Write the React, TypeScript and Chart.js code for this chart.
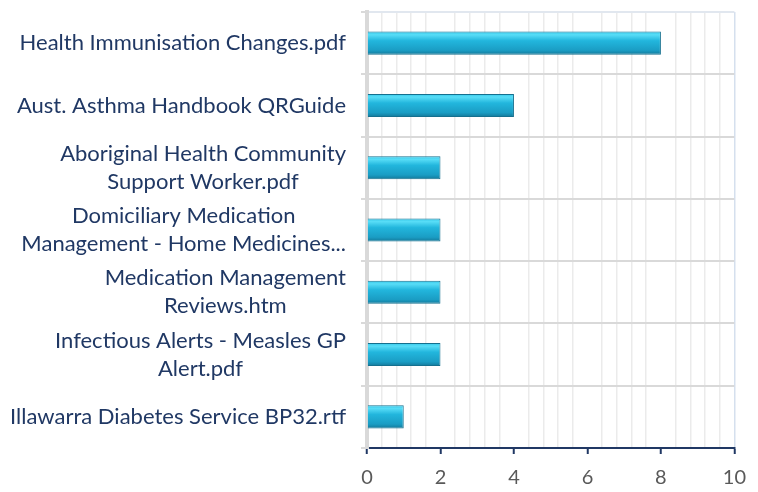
import React, { useEffect, useRef } from 'react';
import { Chart, registerables } from 'chart.js';
Chart.register(...registerables);

const categories: string[][] = [
  ['Health Immunisation Changes.pdf'],
  ['Aust. Asthma Handbook QRGuide'],
  ['Aboriginal Health Community', 'Support Worker.pdf'],
  ['Domiciliary Medication', 'Management - Home Medicines...'],
  ['Medication Management', 'Reviews.htm'],
  ['Infectious Alerts - Measles GP', 'Alert.pdf'],
  ['Illawarra Diabetes Service BP32.rtf'],
];
const values: number[] = [8, 4, 2, 2, 2, 2, 1];
const xTickLabels: number[] = [0, 2, 4, 6, 8, 10];
const xMin = 0;
const xMax = 10;
const minorStep = 0.4;

const LABEL_FONT = '22px Lato, "Open Sans", sans-serif';
const LABEL_COLOR = '#203864';

const isMajor = (v: number) => xTickLabels.some((t) => Math.abs(t - v) < 1e-6);

const labelPlugin = {
  id: 'blockLabels',
  afterDraw(chart: any) {
    const { ctx } = chart;
    const ys = chart.scales.y;
    ctx.save();
    ctx.font = LABEL_FONT;
    ctx.fillStyle = LABEL_COLOR;
    ctx.textAlign = 'center';
    ctx.textBaseline = 'middle';
    const right = chart.chartArea.left - 21;
    const lh = 28;
    categories.forEach((lines, i) => {
      const cy = ys.getPixelForValue(i);
      const widest = Math.max(...lines.map((l) => ctx.measureText(l).width));
      const cx = right - widest / 2;
      lines.forEach((l, j) => ctx.fillText(l, cx, cy + (j - (lines.length - 1) / 2) * lh));
    });
    ctx.restore();
  },
};

export default function App() {
  const ref = useRef<HTMLCanvasElement>(null);
  useEffect(() => {
    if (!ref.current) return;
    const chart = new Chart(ref.current, {
      type: 'bar',
      data: {
        labels: categories,
        datasets: [
          {
            data: values,
            backgroundColor: (c: any) => {
              const ch = c.chart;
              const ys = ch.scales?.y;
              if (!ys || c.dataIndex === undefined) return '#1FB3DA';
              const cy = ys.getPixelForValue(c.dataIndex);
              if (!Number.isFinite(cy)) return '#1FB3DA';
              const h = 12;
              const g = ch.ctx.createLinearGradient(0, cy - h, 0, cy + h);
              g.addColorStop(0, '#2EC3E6');
              g.addColorStop(0.15, '#58DDF7');
              g.addColorStop(0.4, '#22B6DD');
              g.addColorStop(0.8, '#1A9DC4');
              g.addColorStop(1, '#137494');
              return g;
            },
            borderColor: '#15708F',
            borderWidth: 1,
            borderSkipped: 'start',
            barPercentage: 0.37,
            categoryPercentage: 1,
          },
        ],
      },
      options: {
        indexAxis: 'y',
        animation: false,
        responsive: false,
        maintainAspectRatio: false,
        layout: { padding: { top: 12, right: 19, left: 0, bottom: 0 } },
        plugins: { legend: { display: false }, tooltip: { enabled: false } },
        scales: {
          x: {
            type: 'linear',
            min: xMin,
            max: xMax,
            afterBuildTicks: (scale: any) => {
              const t: any[] = [];
              const n = Math.round((xMax - xMin) / minorStep);
              for (let i = 0; i <= n; i++) t.push({ value: Math.round((xMin + i * minorStep) * 1000) / 1000 });
              scale.ticks = t;
            },
            afterFit: (scale: any) => {
              scale.height = 44;
            },
            ticks: {
              autoSkip: false,
              maxRotation: 0,
              padding: 12,
              color: '#595959',
              font: { size: 20, family: 'Lato, "Open Sans", sans-serif' },
              callback: (v: any) => (isMajor(Number(v)) ? String(Math.round(Number(v))) : ''),
            },
            grid: {
              color: (c: any) => {
                const v = c.tick?.value ?? 0;
                if (Math.abs(v - xMax) < 1e-6) return '#D5E0EE';
                if (isMajor(v)) return 'rgba(0,0,0,0)';
                return '#EBEBEB';
              },
              lineWidth: 1.5,
              tickColor: (c: any) => (isMajor(c.tick?.value ?? 0) ? '#203864' : 'rgba(0,0,0,0)'),
              tickLength: 6,
              tickWidth: 2,
            },
            border: { color: '#203864', width: 2 },
          },
          y: {
            type: 'category',
            afterFit: (scale: any) => {
              scale.width = 367;
            },
            ticks: { display: false },
            grid: {
              offset: true,
              color: (c: any) => (c.index === 0 ? '#E1E7EF' : '#D9D9D9'),
              lineWidth: 2,
              tickColor: '#D9D9D9',
              tickLength: 6,
              tickWidth: 2,
            },
            border: { color: '#D9D9D9', width: 4 },
          },
        },
      },
      plugins: [labelPlugin],
    } as any);
    return () => chart.destroy();
  }, []);
  return (
    <div style={{ position: 'fixed', left: 0, top: 0, width: 758, height: 492, background: '#fff' }}>
      <canvas ref={ref} width={758} height={492} style={{ width: 758, height: 492 }} />
    </div>
  );
}
